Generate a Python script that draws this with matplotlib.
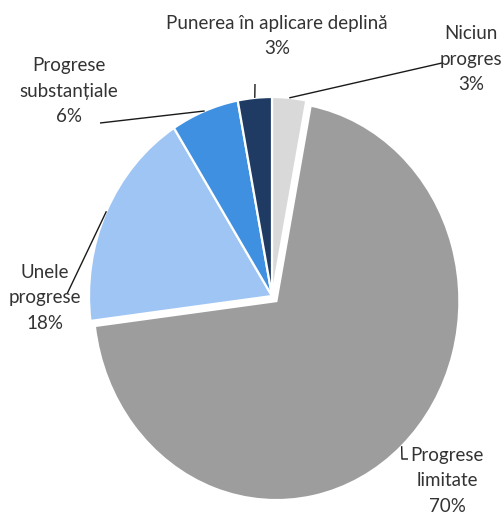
import numpy as np
import matplotlib

matplotlib.use("Agg")
import matplotlib.pyplot as plt

# Data
labels = ["Niciun\nprogres", "Progrese\nlimitate", "Unele\nprogrese",
          "Progrese\nsubstanțiale", "Punerea în aplicare deplină"]
values = [3, 70, 18, 6, 3]
colors = ["#d9d9d9", "#9d9d9d", "#9ec5f4", "#3f90e0", "#1f3b64"]
explode = [0, 0.035, 0, 0, 0]

# pie is slightly stretched vertically in the reference
CX, CY, RX, RY = 272, 296, 183, 199
W, H = 504, 514


def to_data(px, py):
    return (px - CX) / RX, (CY - py) / RY


fig = plt.figure(figsize=(5.04, 5.14), dpi=100)
ax = fig.add_axes([0, 0, 1, 1])

wedges, _ = ax.pie(
    values,
    colors=colors,
    explode=explode,
    startangle=90,
    counterclock=False,
    radius=1,
    wedgeprops=dict(edgecolor="white", linewidth=1.6),
)
ax.set_aspect("auto")
x0, y0 = to_data(0, H)
x1, y1 = to_data(W, 0)
ax.set_xlim(x0, x1)
ax.set_ylim(y0, y1)
ax.axis("off")

# label block centers (px) and leader line paths (px) after the edge point
text_pos = [(471, 59), (447, 481), (45, 298), (69, 91), (277, 36)]
leader_paths = [
    [(442, 63)],
    [(402, 459), (408, 459)],
    [(67, 294)],
    [(100, 123)],
    [(255, 84)],
]

for w, lab, val, (tx, ty), path in zip(wedges, labels, values, text_pos, leader_paths):
    ang = np.deg2rad((w.theta1 + w.theta2) / 2)
    sx = w.center[0] + w.r * np.cos(ang)
    sy = w.center[1] + w.r * np.sin(ang)
    pts = [(sx, sy)] + [to_data(px, py) for px, py in path]
    xs, ys = zip(*pts)
    ax.plot(xs, ys, color="#1a1a1a", linewidth=1.0, solid_capstyle="butt")
    dx, dy = to_data(tx, ty)
    ax.text(dx, dy, f"{lab}\n{val}%", ha="center", va="center",
            fontsize=13.5, family=["Lato", "DejaVu Sans"], color="#333333",
            linespacing=1.6)

fig.savefig("out.png", dpi=100)
